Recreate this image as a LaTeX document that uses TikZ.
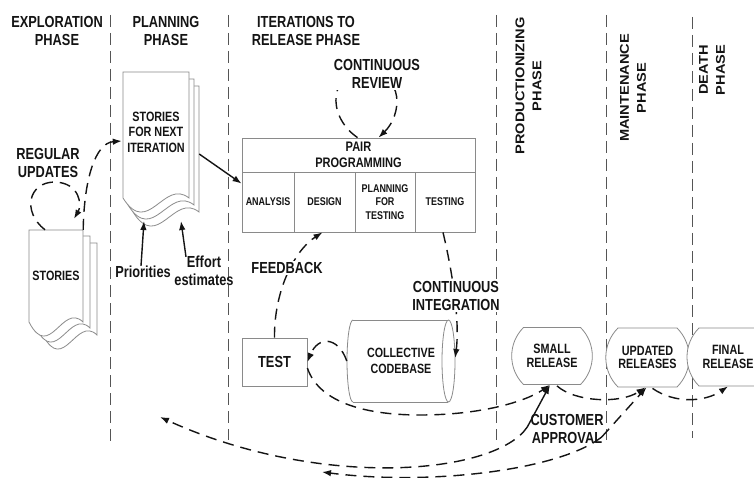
\documentclass[tikz,border=0pt]{standalone}
\usepackage{fontspec}
\setmainfont{Liberation Sans}[FakeStretch=0.8]
\newfontfamily\rotfont{Liberation Sans}[FakeStretch=1.15]
\usetikzlibrary{arrows.meta,calc,shapes.misc}
\definecolor{edge}{HTML}{8A8A8A}
\definecolor{divc}{HTML}{555555}
\definecolor{ink}{HTML}{141414}
\newcommand\DocPage[4]{\draw[pageshape] (#1,#2) -- ({#1+#3},#2) -- ({#1+#3},{#2+#4}) .. controls ({#1+0.62*#3},{#2+#4-20}) and ({#1+0.38*#3},{#2+#4+40}) .. (#1,{#2+#4}) -- cycle;}
\tikzset{
  pageshape/.style={draw=edge, line width=0.8pt, fill=white},
  shapebox/.style={draw=edge, line width=0.8pt, fill=white, inner sep=0pt},
  divider/.style={draw=divc, line width=0.9pt, dash pattern=on 12pt off 6pt},
  conn/.style={draw=ink, line width=1.4pt, dash pattern=on 11pt off 7pt, -{Latex[length=9pt,width=6.5pt]}},
  sconn/.style={draw=ink, line width=1.4pt, -{Latex[length=9pt,width=6.5pt]}},
  lbl/.style={text=ink, font=\bfseries\fontsize{16}{18}\selectfont, align=center, inner sep=1pt},
  vhdr/.style={text=ink, font=\rotfont\bfseries\fontsize{12.7}{17}\selectfont, align=center, rotate=90, inner sep=1pt},
  celltext/.style={text=ink, font=\bfseries\fontsize{11.2}{13.5}\selectfont, align=center},
  midtext/.style={text=ink, font=\bfseries\fontsize{13.5}{15.5}\selectfont, align=center},
  release/.style={draw=edge, line width=0.8pt, fill=white, rounded rectangle, rounded rectangle arc length=90, minimum width=80pt, minimum height=57pt, inner sep=0pt, text=ink, font=\bfseries\fontsize{13.5}{13.5}\selectfont, align=center}
}
\begin{document}
\begin{tikzpicture}[x=1pt,y=-1pt]
\useasboundingbox (0,0) rectangle (754,478);
\fill[white] (0,0) rectangle (754,478);

% phase dividers
\draw[divider] (110,15) -- (110,443);
\draw[divider] (228,15) -- (228,440);
\draw[divider] (496,15) -- (496,440);
\draw[divider] (606,15) -- (606,440);
\draw[divider] (692,17) -- (692,438);

% headers
\node[lbl] (hexp) at (57,31) {EXPLORATION\\PHASE};
\node[lbl] (hplan) at (166,31) {PLANNING\\PHASE};
\node[lbl] (hiter) at (306,30.5) {ITERATIONS TO\\RELEASE PHASE};
\node[vhdr] (hprod) at (528.5,86) {PRODUCTIONIZING\\PHASE};
\node[vhdr] (hmaint) at (633,88) {MAINTENANCE\\PHASE};
\node[vhdr] (hdeath) at (712,70) {DEATH\\PHASE};

% document stacks
\DocPage{43}{243}{54}{92}
\DocPage{36}{236}{54}{92}
\DocPage{29}{230}{54}{92}
\node[midtext, minimum width=54pt, minimum height=92pt, inner sep=0pt] (stories) at (56,276) {STORIES};

\DocPage{133}{86}{66}{126}
\DocPage{128}{79}{66}{126}
\DocPage{123}{72}{66}{126}
\node[midtext, minimum width=66pt, minimum height=120pt, inner sep=0pt] (sni) at (156,132) {STORIES\\FOR NEXT\\ITERATION};

% pair programming block
\node[shapebox, minimum width=233pt, minimum height=34pt, text=ink, font=\bfseries\fontsize{13.8}{16}\selectfont, align=center] (pp) at (358.5,155) {PAIR\\PROGRAMMING};
\node[shapebox, celltext, minimum width=52pt, minimum height=60pt] (analysis) at (268,202) {ANALYSIS};
\node[shapebox, celltext, minimum width=61pt, minimum height=60pt] (design) at (324.5,202) {DESIGN};
\node[shapebox, celltext, minimum width=60pt, minimum height=60pt] (plantest) at (385,202) {PLANNING\\FOR\\TESTING};
\node[shapebox, celltext, minimum width=60pt, minimum height=60pt] (testing) at (445,202) {TESTING};

% test box
\node[shapebox, minimum width=65pt, minimum height=48pt, text=ink, font=\bfseries\fontsize{16}{18}\selectfont] (test) at (274.5,362) {TEST};

% collective codebase cylinder
\fill[white] (353,320) -- (448,320) -- (448,402) -- (353,402) arc[start angle=-270, end angle=-90, x radius=6, y radius=41] -- cycle;
\draw[draw=edge, line width=0.8pt] (353,320) -- (448,320) (353,402) -- (448,402);
\draw[draw=edge, line width=0.8pt] (448.5,361) ellipse[x radius=6.5, y radius=41];
\draw[draw=edge, line width=0.8pt] (353,320) arc[start angle=-90, end angle=-270, x radius=6, y radius=41];
\node[midtext, font=\bfseries\fontsize{13.4}{16}\selectfont, minimum width=108pt, minimum height=82pt, inner sep=0pt] (codebase) at (401,361) {COLLECTIVE\\CODEBASE};

% releases
\node[release] (small) at (552,356) {SMALL\\RELEASE};
\node[release, minimum width=79pt, minimum height=59pt] (updated) at (647.5,357.5) {UPDATED\\RELEASES};
\node[release, minimum width=62pt, minimum height=58pt] (final) at (728,357) {FINAL\\RELEASE};

% labels
\node[lbl] (regular) at (48,162.5) {REGULAR\\UPDATES};
\node[lbl] (prio) at (143,272) {Priorities};
\node[lbl] (effort) at (204,271) {Effort\\estimates};
\node[lbl] (cust) at (567,429) {CUSTOMER\\APPROVAL};

% named free ends
\coordinate (wave1) at (144,221);
\coordinate (wave2) at (181,221);
\coordinate (ca0) at ($(cust.west)+(-2,-2)$);
\coordinate (cb0) at ($(cust.east)+(-3,8)$);
\coordinate (ca1) at (160,417);
\coordinate (cb1) at (322,472);

% connectors
\draw[conn] ($(stories.north)+(-11,0)$) .. controls (22,212) and (28,182) .. (55,182) .. controls (80,183) and (82,205) .. ($(stories.north)+(18,-11)$);
\draw[conn] (stories.north east) .. controls (84,180) and (95,143) .. ($(sni.west)+(-1,9)$);
\draw[sconn] ($(sni.east)+(10,22)$) -- ($(analysis.north west)+(0,12)$);
\draw[sconn] ($(prio.north)+(-2,1)$) -- (wave1);
\draw[sconn] ($(effort.north)+(-18,2)$) -- (wave2);
\draw[conn] ($(pp.north)+(-1,0)$) .. controls (325,115) and (330,70) .. (367,72) .. controls (405,74) and (402,115) .. ($(pp.north)+(20,0)$);
\draw[conn] (test.north) .. controls (274,290) and (295,250) .. ($(design.south)+(-2,0)$);
\draw[conn] ($(testing.south)+(-2,0)$) .. controls (452,270) and (460,320) .. ($(codebase.east)+(0,-3)$);
\draw[conn] (codebase.west) .. controls (338,336) and (318,336) .. (test.east);
\draw[conn] ($(test.east)+(0,6)$) .. controls (318,400) and (360,415) .. (420,415) .. controls (480,415) and (525,402) .. ($(small.south)+(-2,0)$);
\draw[conn] ($(small.south)+(5,1)$) .. controls (575,402) and (620,404) .. ($(updated.south)+(-2,0)$);
\draw[conn] ($(updated.south)+(5,1)$) .. controls (675,404) and (705,402) .. ($(final.south)+(0,0)$);
\draw[sconn] (ca0) -- ($(small.south)+(-2,0)$);
\draw[conn] (cb0) -- ($(updated.south)+(-1,0)$);
\draw[conn] (ca0) .. controls (495,475) and (320,490) .. (ca1);
\draw[conn] (cb0) .. controls (560,470) and (430,486) .. (cb1);

% labels that sit over connectors
\node[lbl, fill=white] (review) at (377,74) {CONTINUOUS\\REVIEW};
\node[lbl, fill=white] (feedback) at (287,268) {FEEDBACK};
\node[lbl, fill=white] (integ) at (456,296) {CONTINUOUS\\INTEGRATION};
\end{tikzpicture}
\end{document}
